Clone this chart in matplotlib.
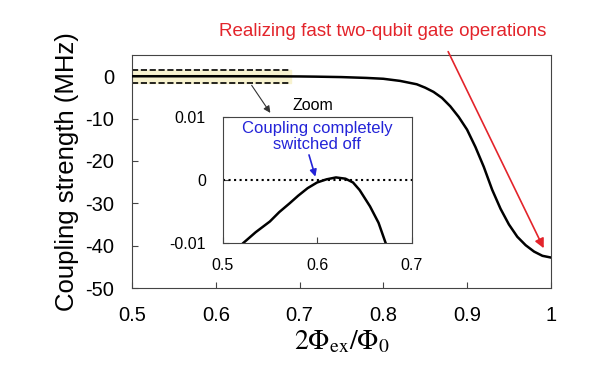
import matplotlib
matplotlib.use('Agg')
import matplotlib.pyplot as plt

plt.rcParams['font.family'] = ['Liberation Sans', 'DejaVu Sans']
plt.rcParams['mathtext.fontset'] = 'stix'

# main curve: coupling strength (MHz) vs 2*Phi_ex/Phi_0
flux = [0.50, 0.55, 0.60, 0.65, 0.70, 0.72, 0.75, 0.78, 0.80, 0.82, 0.84, 0.85,
        0.86, 0.87, 0.88, 0.89, 0.90, 0.91, 0.92, 0.93, 0.94, 0.95, 0.96, 0.97,
        0.98, 0.99, 1.00]
coupling = [0.0, 0.0, 0.0, 0.0, -0.05, -0.1, -0.2, -0.4, -0.6, -1.1, -1.9, -2.7,
            -3.7, -5.1, -7.1, -9.6, -12.6, -16.7, -21.4, -26.8, -31.3, -35.0,
            -37.9, -39.9, -41.4, -42.4, -42.8]

# zoomed region (MHz)
flux_zoom = [0.522, 0.535, 0.550, 0.560, 0.571, 0.580, 0.590, 0.600, 0.610, 0.620,
             0.630, 0.638, 0.645, 0.656, 0.665, 0.6725]
coupling_zoom = [-0.0100, -0.0083, -0.0066, -0.0051, -0.0037, -0.0025, -0.0013,
                 -0.0004, 0.0001, 0.0004, 0.0002, -0.0004, -0.0016, -0.0042,
                 -0.0068, -0.0100]

x_ticks = [0.5, 0.6, 0.7, 0.8, 0.9, 1.0]
x_labels = ['0.5', '0.6', '0.7', '0.8', '0.9', '1']
y_ticks = [0, -10, -20, -30, -40, -50]

SPINE = '#444444'
RED = '#e3242b'
BLUE = '#2424d8'

fig = plt.figure(figsize=(6, 3.72), dpi=100)
ax = fig.add_axes([0.22, 0.2258, 0.698, 0.6262])

band = 1.5
ax.fill_between([0.5, 0.69], -band, band, color='#f7f2cf', zorder=1)
ax.plot([0.5, 0.69], [band, band], 'k--', lw=1.2, zorder=2)
ax.plot([0.5, 0.69], [-band, -band], 'k--', lw=1.2, zorder=2)
ax.plot(flux, coupling, color='black', lw=1.8, zorder=3)

ax.set_xlim(0.5, 1.0)
ax.set_ylim(-50, 5)
ax.set_xticks(x_ticks)
ax.set_xticklabels(x_labels)
ax.set_yticks(y_ticks)
ax.set_yticklabels([str(t) for t in y_ticks])
ax.tick_params(direction='in', length=4, labelsize=14.5, color=SPINE)
ax.tick_params(axis='x', pad=13)
ax.tick_params(axis='y', pad=13)
for s in ['top', 'right', 'bottom', 'left']:
    ax.spines[s].set_color(SPINE)
ax.set_ylabel('Coupling strength (MHz)', fontsize=18.5, labelpad=4)
ax.set_xlabel(r'$2\Phi_{\mathrm{ex}}/\Phi_0$', fontsize=20, labelpad=3)

# arrow from band to inset
ax.annotate('', xy=(0.667, -9.2), xytext=(0.641, -1.6),
            arrowprops=dict(arrowstyle='-|>', color='#333333', lw=0.8,
                            mutation_scale=10))

# red annotation
ax.annotate('', xy=(0.993, -41.2), xytext=(0.876, 6.4),
            arrowprops=dict(arrowstyle='-|>', color=RED, lw=1.2,
                            mutation_scale=14), annotation_clip=False)
fig.text(0.638, 0.915, 'Realizing fast two-qubit gate operations', color=RED,
         fontsize=13.5, ha='center', va='center')

# inset
axi = fig.add_axes([0.371, 0.347, 0.315, 0.3385])
axi.axhline(0, color='black', ls=':', lw=1.5)
axi.plot(flux_zoom, coupling_zoom, color='black', lw=1.8)
axi.set_xlim(0.5, 0.7)
axi.set_ylim(-0.01, 0.01)
axi.set_xticks([0.5, 0.6, 0.7])
axi.set_xticklabels(['0.5', '0.6', '0.7'])
axi.set_yticks([-0.01, 0, 0.01])
axi.set_yticklabels(['-0.01', '0', '0.01'])
axi.tick_params(direction='in', length=4, labelsize=11.5, color=SPINE)
axi.tick_params(axis='x', pad=11)
axi.tick_params(axis='y', pad=12)
for s in ['top', 'right', 'bottom', 'left']:
    axi.spines[s].set_color(SPINE)
axi.text(0.596, 0.0119, 'Zoom', fontsize=11.5, ha='center', va='center')
axi.text(0.5998, 0.0069, 'Coupling completely\nswitched off', color=BLUE,
         fontsize=12, ha='center', va='center', linespacing=1.05)
axi.annotate('', xy=(0.5990, 0.0001), xytext=(0.5906, 0.0044),
             arrowprops=dict(arrowstyle='-|>', color=BLUE, lw=1.2,
                             mutation_scale=10))

fig.savefig('out.png', dpi=100)
